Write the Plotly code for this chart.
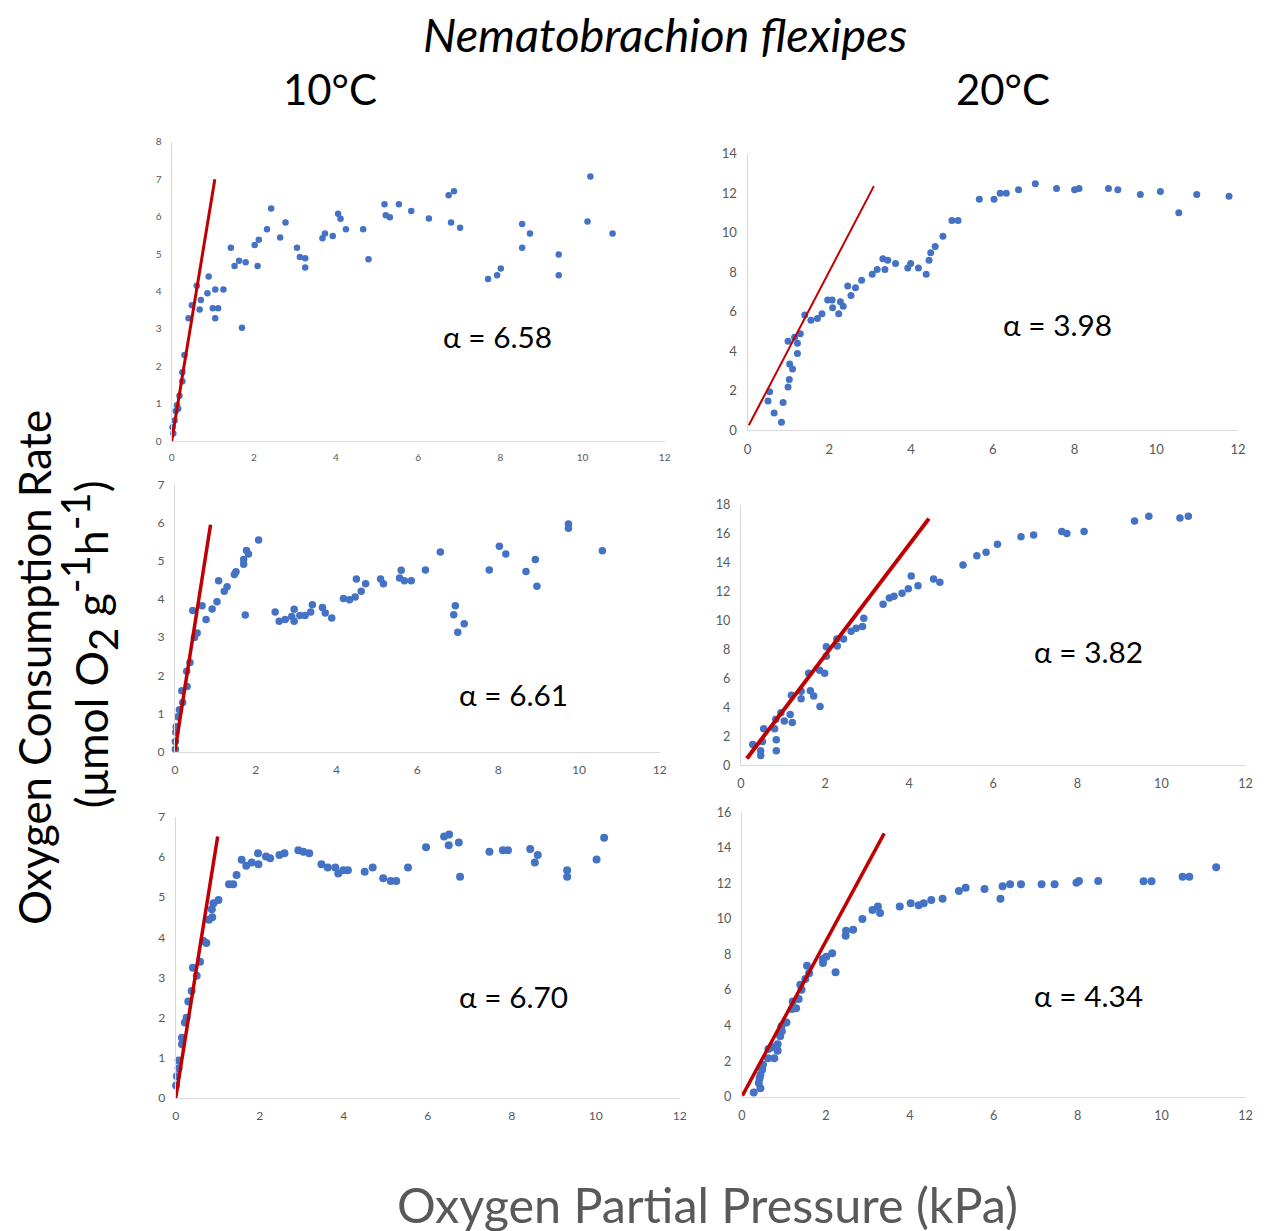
import plotly.graph_objects as go

W, H = 1264, 1231
# measured mapping of the photographed page: shown = A + B * figure_px  (per axis)
AX, BX = 12.1, 0.990
AY, BY = 16.4, 0.9876

# ---------------- data ----------------
# Panel A: 10°C, top
a_x = [0.04, 0.02, 0.07, 0.10, 0.16, 0.13, 0.19, 0.26, 0.26, 0.31, 0.41, 0.49, 0.68, 0.61, 0.71, 0.87, 0.90, 1.00, 1.13, 1.06,
       1.06, 1.26, 1.44, 1.53, 1.64, 1.80, 1.71, 2.02, 2.12, 2.09, 2.32, 2.42, 2.64, 2.77, 3.05, 3.12, 3.25, 3.25, 3.67, 3.73,
       3.92, 4.05, 4.11, 4.24, 4.66, 4.79, 5.18, 5.21, 5.31, 5.53, 5.83, 6.26, 6.74, 6.87, 6.80, 7.02, 7.70, 7.92, 8.01, 8.53,
       8.72, 8.53, 9.42, 9.42, 10.19, 10.12, 10.73]
a_y = [0.20, 0.37, 0.55, 0.80, 0.86, 0.96, 1.21, 1.60, 1.84, 2.30, 3.28, 3.63, 3.52, 4.15, 3.77, 3.95, 4.40, 3.55, 3.55, 3.28,
       4.05, 4.05, 5.17, 4.68, 4.82, 4.78, 3.03, 5.24, 5.38, 4.68, 5.66, 6.22, 5.44, 5.84, 5.17, 4.92, 4.89, 4.64, 5.42, 5.55,
       5.48, 6.08, 5.94, 5.66, 5.66, 4.86, 6.33, 6.04, 5.98, 6.33, 6.15, 5.95, 6.57, 6.68, 5.84, 5.70, 4.33, 4.43, 4.61, 5.80,
       5.55, 5.17, 4.99, 4.43, 7.07, 5.87, 5.55]
a_fit_x = [0.0, 1.05]
a_fit_y = [0.0, 7.0]

# Panel B: 20°C, top
b_x = [0.50, 0.54, 0.65, 0.83, 0.87, 0.99, 1.02, 1.03, 1.10, 0.99, 1.15, 1.22, 1.22, 1.29, 1.40, 1.55, 1.71, 1.82, 1.96, 2.07,
       2.08, 2.23, 2.27, 2.34, 2.45, 2.53, 2.64, 2.79, 3.05, 3.17, 3.31, 3.43, 3.36, 3.62, 3.92, 3.99, 4.18, 4.37, 4.44, 4.48,
       4.59, 4.78, 5.00, 5.15, 5.67, 6.03, 6.18, 6.33, 6.63, 7.04, 7.56, 8.00, 8.11, 8.83, 9.06, 9.61, 10.10, 10.55, 10.99, 11.78]
b_y = [1.47, 1.94, 0.86, 0.39, 1.40, 2.18, 2.56, 3.34, 3.09, 4.49, 4.70, 4.40, 3.88, 4.87, 5.82, 5.56, 5.65, 5.89, 6.58, 6.58,
       6.19, 5.89, 6.49, 6.27, 7.29, 6.81, 7.20, 7.59, 7.89, 8.13, 8.67, 8.60, 8.13, 8.43, 8.20, 8.43, 8.21, 7.89, 8.60, 8.97,
       9.29, 9.81, 10.61, 10.61, 11.69, 11.69, 11.99, 11.99, 12.17, 12.47, 12.23, 12.17, 12.23, 12.23, 12.17, 11.93, 12.08, 11.00, 11.93, 11.84]
b_fit_x = [0.03, 3.09]
b_fit_y = [0.24, 12.35]

# Panel C: 10°C, middle
c_x = [0.01, 0.01, 0.02, 0.03, 0.07, 0.11, 0.19, 0.17, 0.30, 0.29, 0.37, 0.48, 0.55, 0.44, 0.67, 0.77, 0.92, 1.04, 1.08, 1.22,
       1.29, 1.47, 1.51, 1.70, 1.70, 1.77, 1.82, 1.74, 2.07, 2.48, 2.58, 2.73, 2.89, 2.95, 2.95, 3.09, 3.22, 3.36, 3.40, 3.65,
       3.72, 3.88, 4.17, 4.32, 4.46, 4.49, 4.61, 4.72, 5.09, 5.16, 5.56, 5.60, 5.68, 5.85, 6.20, 6.57, 6.94, 6.90, 7.16, 7.00,
       7.78, 8.03, 8.19, 8.69, 8.92, 8.96, 9.74, 9.74, 10.58]
c_y = [0.07, 0.27, 0.51, 0.66, 0.92, 1.10, 1.29, 1.60, 1.71, 2.11, 2.34, 2.99, 3.11, 3.70, 3.82, 3.46, 3.74, 3.93, 4.48, 4.20,
       4.32, 4.64, 4.71, 4.91, 5.03, 5.27, 5.18, 3.58, 5.54, 3.66, 3.42, 3.46, 3.54, 3.73, 3.42, 3.57, 3.57, 3.66, 3.85, 3.78,
       3.63, 3.50, 4.01, 3.98, 4.05, 4.52, 4.20, 4.40, 4.52, 4.40, 4.55, 4.75, 4.48, 4.48, 4.76, 5.23, 3.82, 3.59, 3.35, 3.13,
       4.76, 5.38, 5.18, 4.72, 5.03, 4.33, 5.96, 5.85, 5.26]
c_fit_x = [0.0, 0.88]
c_fit_y = [0.03, 5.94]

# Panel D: 20°C, middle
d_x = [0.28, 0.47, 0.47, 0.51, 0.54, 0.80, 0.84, 0.84, 0.83, 0.95, 1.03, 1.17, 1.20, 1.22, 1.43, 1.43, 1.61, 1.65, 1.73, 1.88,
       1.87, 1.99, 2.03, 2.03, 2.28, 2.29, 2.44, 2.62, 2.74, 2.89, 2.92, 3.38, 3.53, 3.64, 3.83, 3.98, 4.05, 4.21, 4.58, 4.73,
       5.28, 5.61, 5.83, 6.10, 6.66, 6.96, 7.63, 7.75, 8.16, 9.36, 9.70, 10.44, 10.64]
d_y = [1.43, 0.99, 0.67, 1.64, 2.51, 2.51, 1.75, 0.99, 3.18, 3.62, 3.06, 3.50, 4.84, 2.95, 5.12, 4.59, 6.36, 5.14, 4.79, 4.06,
       6.57, 6.36, 8.20, 7.53, 8.73, 8.25, 8.73, 9.26, 9.47, 9.59, 10.16, 11.13, 11.57, 11.68, 11.89, 12.21, 13.09, 12.42, 12.88, 12.65,
       13.85, 14.49, 14.73, 15.28, 15.81, 15.93, 16.16, 16.02, 16.16, 16.90, 17.22, 17.10, 17.22]
d_fit_x = [0.14, 4.47]
d_fit_y = [0.46, 17.06]

# Panel E: 10°C, bottom
e_x = [0.01, 0.03, 0.07, 0.07, 0.15, 0.15, 0.22, 0.26, 0.30, 0.38, 0.41, 0.50, 0.58, 0.66, 0.73, 0.79, 0.87, 0.86, 0.90, 1.02,
       1.27, 1.37, 1.45, 1.57, 1.68, 1.81, 1.96, 1.97, 2.15, 2.25, 2.47, 2.59, 2.92, 3.04, 3.18, 3.47, 3.62, 3.80, 3.87, 3.99,
       4.10, 4.50, 4.69, 4.94, 5.12, 5.25, 5.53, 5.96, 6.39, 6.51, 6.50, 6.74, 6.77, 7.47, 7.79, 7.91, 8.44, 8.62, 8.55, 9.32,
       9.32, 10.02, 10.20]
e_y = [0.31, 0.54, 0.74, 0.93, 1.34, 1.50, 1.88, 2.00, 2.40, 2.66, 3.24, 3.04, 3.39, 3.91, 3.86, 4.44, 4.50, 4.70, 4.85, 4.93,
       5.32, 5.32, 5.55, 5.93, 5.78, 5.86, 6.09, 5.82, 6.01, 5.97, 6.05, 6.09, 6.17, 6.13, 6.09, 5.82, 5.74, 5.74, 5.59, 5.67,
       5.67, 5.63, 5.74, 5.47, 5.40, 5.40, 5.74, 6.24, 6.51, 6.56, 6.29, 6.36, 5.51, 6.13, 6.17, 6.17, 6.20, 6.05, 5.86, 5.67,
       5.51, 5.94, 6.48]
e_fit_x = [0.0, 1.0]
e_fit_y = [0.0, 6.51]

# Panel F: 20°C, bottom
f_x = [0.28, 0.44, 0.40, 0.42, 0.44, 0.48, 0.50, 0.62, 0.77, 0.63, 0.73, 0.85, 0.85, 0.91, 0.95, 0.94, 1.06, 1.19, 1.21, 1.29,
       1.35, 1.39, 1.42, 1.51, 1.55, 1.60, 1.93, 2.01, 2.15, 1.93, 2.23, 2.47, 2.48, 2.65, 2.87, 3.11, 3.24, 3.29, 3.76, 4.02,
       4.21, 4.33, 4.51, 4.78, 5.17, 5.33, 5.78, 6.16, 6.21, 6.39, 6.65, 7.14, 7.45, 7.97, 8.03, 8.49, 9.57, 9.76, 10.50, 10.66, 11.30]
f_y = [0.24, 0.47, 0.77, 1.03, 1.22, 1.52, 1.80, 2.16, 2.16, 2.68, 2.78, 2.59, 2.95, 3.40, 3.68, 3.96, 4.18, 4.93, 5.35, 4.97,
       5.50, 6.30, 6.02, 6.62, 7.37, 6.94, 7.52, 7.88, 8.07, 7.75, 7.00, 9.06, 9.34, 9.40, 10.00, 10.51, 10.71, 10.34, 10.71, 10.88,
       10.77, 10.88, 11.07, 11.14, 11.58, 11.76, 11.69, 11.14, 11.84, 11.95, 11.95, 11.95, 11.95, 12.04, 12.14, 12.14, 12.12, 12.12, 12.38, 12.38, 12.91]
f_fit_x = [0.01, 3.39]
f_fit_y = [0.06, 14.82]

x_ticks = [0, 2, 4, 6, 8, 10, 12]
y_max = [8, 14, 7, 18, 7, 16]
y_step = [1, 2, 1, 2, 1, 2]
alpha_labels = ["α = 6.58", "α = 3.98", "α = 6.61", "α = 3.82", "α = 6.70", "α = 4.34"]
col_titles = ["10°C", "20°C"]
main_title = "Nematobrachion flexipes"
y_title_1 = "Oxygen Consumption Rate"
y_title_2 = ("(μmol O<sub><span style='font-size:40px'>2</span></sub> g"
             "<sup><span style='font-size:40px'>-1</span></sup>h"
             "<sup><span style='font-size:40px'>-1</span></sup>)")
x_title = "Oxygen Partial Pressure (kPa)"

# ---------------- layout geometry (target pixels in the picture) ----------------
# (left, right, top, bottom) of each plot area
boxes = [
    (171.7, 664.5, 142.3, 441.7),
    (747.3, 1237.5, 154.0, 430.7),
    (175.0, 659.5, 485.0, 752.7),
    (740.7, 1245.0, 505.7, 766.0),
    (175.7, 679.5, 817.7, 1099.0),
    (741.7, 1245.0, 813.3, 1097.7),
]
tick_size = [10, 13, 12, 12.5, 12, 12.5]
marker_size = [6.5, 7, 7.5, 7.5, 8, 8]
line_width = [3, 2, 3.5, 4, 3.5, 3.5]
alpha_pos = [(497, 337), (1057, 325), (513, 695), (1088, 652), (513, 997), (1088, 996)]

FONT = "Lato, 'Open Sans', sans-serif"
BLUE = "#4472C4"
RED = "#C00000"
GRAY = "#595959"

def px(x):
    return ((x - AX) / BX) / W

def py(y):
    return 1 - ((y - AY) / BY) / H

def fs(s):
    return s / BX

series = [(a_x, a_y, a_fit_x, a_fit_y), (b_x, b_y, b_fit_x, b_fit_y), (c_x, c_y, c_fit_x, c_fit_y),
          (d_x, d_y, d_fit_x, d_fit_y), (e_x, e_y, e_fit_x, e_fit_y), (f_x, f_y, f_fit_x, f_fit_y)]

fig = go.Figure()
layout_axes = {}
annotations = []
for i, (sx, sy, fx, fy) in enumerate(series):
    n = i + 1
    xa = "x" if n == 1 else f"x{n}"
    ya = "y" if n == 1 else f"y{n}"
    fig.add_trace(go.Scatter(x=sx, y=sy, mode="markers", xaxis=xa, yaxis=ya,
                             marker=dict(color=BLUE, size=marker_size[i]), cliponaxis=False,
                             showlegend=False, hoverinfo="x+y"))
    fig.add_trace(go.Scatter(x=fx, y=fy, mode="lines", xaxis=xa, yaxis=ya,
                             line=dict(color=RED, width=line_width[i]), cliponaxis=False,
                             showlegend=False, hoverinfo="skip"))
    l, r, t, b = boxes[i]
    ax_common = dict(showline=True, linecolor="#D9D9D9", linewidth=1, showgrid=False, zeroline=False,
                     ticks="", tickfont=dict(family=FONT, size=fs(tick_size[i]), color=GRAY), fixedrange=True)
    layout_axes["xaxis" if n == 1 else f"xaxis{n}"] = dict(
        domain=[px(l), px(r)], range=[0, 12], tickvals=x_ticks, anchor=ya,
        ticklabelstandoff=7, **ax_common)
    layout_axes["yaxis" if n == 1 else f"yaxis{n}"] = dict(
        domain=[py(b), py(t)], range=[0, y_max[i]], dtick=y_step[i], tick0=0, anchor=xa,
        ticklabelstandoff=7, **ax_common)
    ax_, ay_ = alpha_pos[i]
    annotations.append(dict(text=alpha_labels[i], x=px(ax_), y=py(ay_), xref="paper", yref="paper",
                            xanchor="center", yanchor="middle", showarrow=False,
                            font=dict(family=FONT, size=fs(29.5), color="#000000")))

annotations += [
    dict(text=f"<i>{main_title}</i>", x=px(665), y=py(34), xref="paper", yref="paper",
         xanchor="center", yanchor="middle", showarrow=False, font=dict(family=FONT, size=fs(46.5), color="#000000")),
    dict(text=col_titles[0], x=px(330), y=py(89), xref="paper", yref="paper",
         xanchor="center", yanchor="middle", showarrow=False, font=dict(family=FONT, size=fs(41.5), color="#000000")),
    dict(text=col_titles[1], x=px(1003), y=py(89), xref="paper", yref="paper",
         xanchor="center", yanchor="middle", showarrow=False, font=dict(family=FONT, size=fs(41.5), color="#000000")),
    dict(text=y_title_1, x=px(34), y=py(668), xref="paper", yref="paper", textangle=-90,
         xanchor="center", yanchor="middle", showarrow=False, font=dict(family=FONT, size=fs(43.3), color="#000000")),
    dict(text=y_title_2, x=px(89), y=py(645), xref="paper", yref="paper", textangle=-90,
         xanchor="center", yanchor="middle", showarrow=False, font=dict(family=FONT, size=fs(44), color="#000000")),
    dict(text=x_title, x=px(707), y=py(1205), xref="paper", yref="paper",
         xanchor="center", yanchor="middle", showarrow=False, font=dict(family=FONT, size=fs(48), color=GRAY)),
]

fig.update_layout(width=W, height=H, margin=dict(l=0, r=0, t=0, b=0, pad=0),
                  paper_bgcolor="white", plot_bgcolor="white", showlegend=False,
                  annotations=annotations, **layout_axes)

fig.write_html("out.html")
